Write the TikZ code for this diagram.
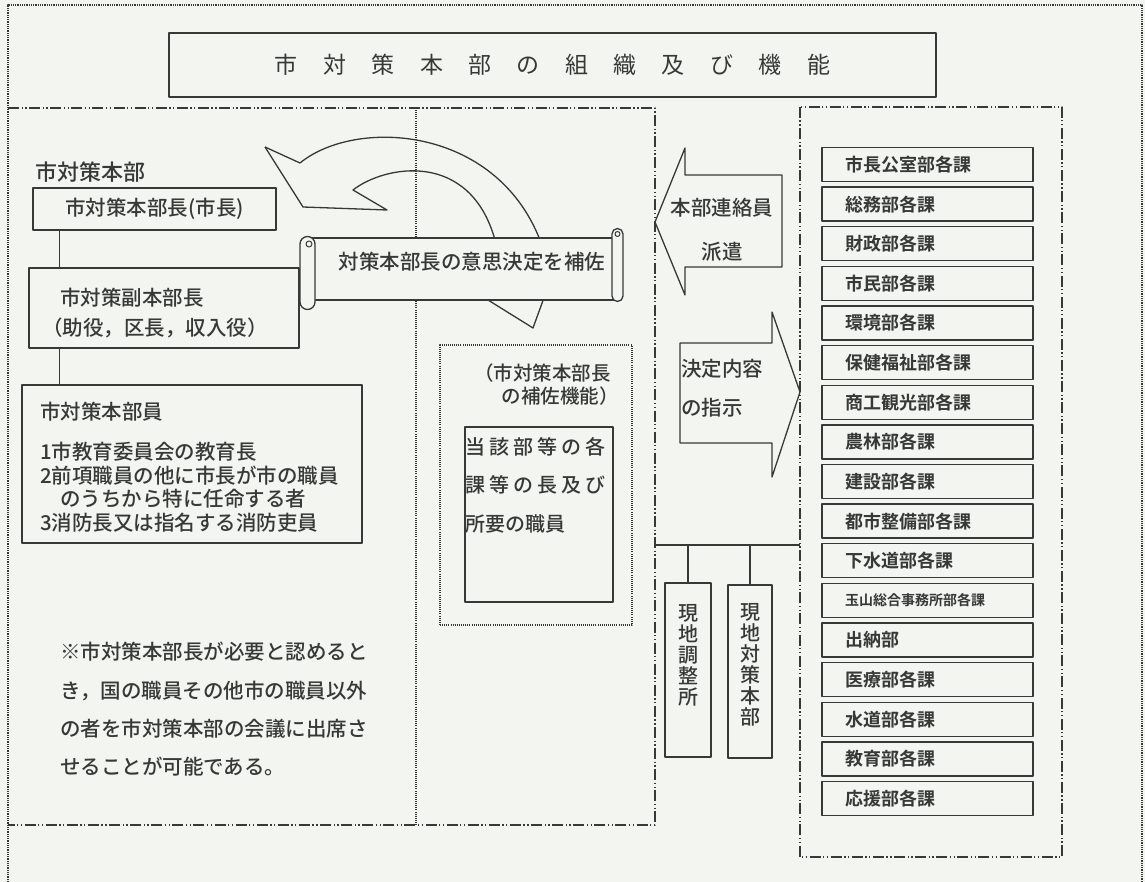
\documentclass[tikz,border=0pt]{standalone}
\usepackage{fontspec}
\setmainfont{Noto Sans CJK JP Medium}[BoldFont={Noto Sans CJK JP Bold}]
\newfontfamily\titlefont{Noto Sans CJK JP}
\usepackage{xcolor}
\definecolor{ink}{HTML}{363A36}
\definecolor{paper}{HTML}{F3F5F0}
\newcommand{\bodyfont}{\fontsize{20.5}{24}\selectfont}
\newcommand{\tsp}{\hspace{25.4pt}}
\newcommand{\lsp}{\hspace{4pt}}

\begin{document}
\begin{tikzpicture}[x=1pt, y=-1pt, line join=round, font=\bodyfont, text=ink,
  box/.style={draw=ink, line width=1.3pt, inner sep=0pt},
  dept/.style={box, minimum width=211pt, minimum height=34pt, text width=165pt, inner xsep=23pt, align=left, font=\fontsize{18}{18}\selectfont\bfseries},
  conn/.style={draw=ink, line width=1.3pt},
  curv/.style={draw=ink, line width=1.3pt},
  ddash/.style={draw=ink, line width=1.4pt, dash pattern=on 11pt off 2.5pt on 1.3pt off 2.5pt on 1.3pt off 2.5pt},
  dots/.style={draw=ink, line width=1.1pt, dash pattern=on 1pt off 1.1pt}]
\useasboundingbox (0,0) rectangle (1145,882);
\fill[paper] (0,0) rectangle (1145,882);
\draw[ink, line width=1.3pt, dash pattern=on 1pt off 0.8pt] (8,882) -- (8,5) -- (1142,5) -- (1142,882);

\node[box, minimum width=767pt, minimum height=64pt, font=\fontsize{23}{23}\titlefont] (title) at (552.5,65)
  {市\tsp 対\tsp 策\tsp 本\tsp 部\tsp の\tsp 組\tsp 織\tsp 及\tsp び\tsp 機\tsp 能};

\draw[ddash] (8,108) -- (655,108) -- (655,825) -- (8,825);
\draw[dots] (416,108) -- (416,825);
\draw[ddash] (800,107) rectangle (1062,857);

% left column
\node[anchor=west, inner sep=0pt, font=\fontsize{22}{22}\selectfont] (hq) at (35,172) {市対策本部};
\node[box, minimum width=243pt, minimum height=42pt] (chief) at (154.5,209) {市対策本部長(市長)};
\node[box, minimum width=270pt, minimum height=80pt] (vice) at (164,308) {};
\node[anchor=west, align=left, inner sep=0pt, font=\fontsize{20.5}{30}\selectfont] (vicetxt) at (60,313)
  {市対策副本部長\\\hspace*{-18pt}（助役，区長，収入役）};
\node[box, minimum width=340pt, minimum height=158pt] (member) at (192,464) {};
\node[anchor=north west, align=left, inner sep=0pt, font=\fontsize{20.5}{23.5}\selectfont] (membertxt) at (40,402)
  {市対策本部員\\[16.5pt]1市教育委員会の教育長\\2前項職員の他に市長が市の職員\\\hspace*{20pt}のうちから特に任命する者\\3消防長又は指名する消防吏員};
\draw[conn] ([xshift=27pt]chief.south west) -- ([xshift=27pt]chief.south west |- vice.north);
\draw[conn] ([xshift=31pt]vice.south west) -- ([xshift=31pt]vice.south west |- member.north);
\node[anchor=north west, align=left, inner sep=0pt, font=\fontsize{20.5}{38.3}\selectfont] (note) at (60,642)
  {※市対策本部長が必要と認めると\\き，国の職員その他市の職員以外\\の者を市対策本部の会議に出席さ\\せることが可能である。};

% curved arrow and scroll
\draw[curv] (265,147) -- (300,163) .. controls (355,118) and (495,125) .. (540,240);
\draw[curv] (265,147) -- (303,207) -- (387,210) -- (353,190) .. controls (385,165) and (470,150) .. (495,240);
\draw[curv] (480,295) -- (533,328) -- (545,295);
\draw[box, fill=paper] (307,238) rectangle (617,300);
\draw[box, fill=paper] (300,244) arc[start angle=180, end angle=360, radius=7.5] -- (315,302)
  arc[start angle=0, end angle=180, radius=7.5] -- cycle;
\draw[ink, line width=1pt] (309,244) circle (3);
\draw[box, fill=paper] (612,296) -- (612,234) arc[start angle=180, end angle=360, radius=5.5] -- (623,296)
  arc[start angle=0, end angle=180, radius=5.5];
\draw[ink, line width=1pt] (617.5,234) circle (2.5);
\node[inner sep=0pt] (assist) at (472,262) {対策本部長の意思決定を補佐};

% middle column
\node[dots, minimum width=192pt, minimum height=280pt] (aid) at (536,485) {};
\node[anchor=north east, align=right, inner sep=0pt, font=\fontsize{19.5}{23}\selectfont] (aidtxt) at (611,364)
  {（市対策本部長\\の補佐機能）\hspace*{-8pt}};
\node[box, minimum width=148pt, minimum height=175pt] (staff) at (539,514.5) {};
\node[anchor=north west, align=left, inner sep=0pt, font=\fontsize{20}{38.5}\selectfont] (stafftxt) at (465,437)
  {当\lsp 該\lsp 部\lsp 等\lsp の\lsp 各\\課\lsp 等\lsp の\lsp 長\lsp 及\lsp び\\所要の職員};

\draw[box] (655,222) -- (685,148) -- (685,175) -- (782,175) -- (782,267) -- (685,267) -- (685,295) -- cycle;
\node[align=center, inner sep=0pt, font=\fontsize{20.5}{44}\selectfont] (dispatch) at (722,230) {本部連絡員\\派遣};
\draw[box] (680,343) -- (772,343) -- (772,312) -- (800,392) -- (772,477) -- (772,443) -- (680,443) -- cycle;
\node[anchor=west, align=left, inner sep=0pt, font=\fontsize{20.5}{39}\selectfont] (order) at (681,388) {決定内容\\の指示};

\node[box, minimum width=46pt, minimum height=174pt] (adjust) at (688,670) {};
\node[align=center, inner sep=0pt, font=\fontsize{20}{21}\selectfont] (adjusttxt) at (688,655) {現\\地\\調\\整\\所};
\node[box, minimum width=44pt, minimum height=173pt] (field) at (750,671.5) {};
\node[align=center, inner sep=0pt, font=\fontsize{20}{21}\selectfont] (fieldtxt) at (750,665) {現\\地\\対\\策\\本\\部};
\coordinate (busL) at (655,545);
\coordinate (busR) at (800,545);
\draw[conn] (busL) -- (busR);
\draw[conn] (adjust.north) -- (adjust.north |- busL);
\draw[conn] (field.north) -- (field.north |- busL);

% departments
\foreach \dname [count=\i] in {市長公室部各課,総務部各課,財政部各課,市民部各課,環境部各課,保健福祉部各課,商工観光部各課,農林部各課,建設部各課,都市整備部各課,下水道部各課,{\fontsize{14}{14}\selectfont 玉山総合事務所部各課},出納部,医療部各課,水道部各課,教育部各課,応援部各課} {
  \node[dept] (dept\i) at (927.5,{164.5+(\i-1)*39.625}) {\dname};
}
\end{tikzpicture}
\end{document}
